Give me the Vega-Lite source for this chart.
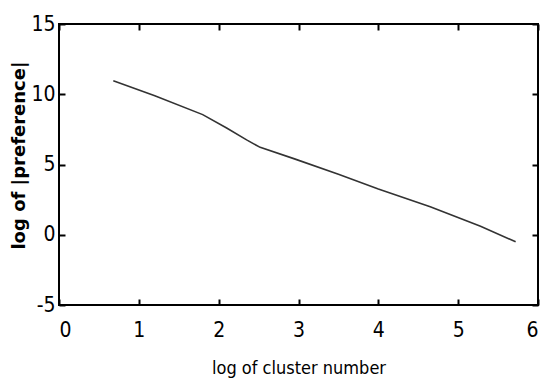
{
  "$schema": "https://vega.github.io/schema/vega-lite/v6.json",
  "width": 479,
  "height": 281,
  "autosize": "none",
  "padding": {"left": 59, "top": 24, "right": 4, "bottom": 77},
  "background": "white",
  "config": {
    "view": {"stroke": "black", "strokeWidth": 2},
    "axis": {
      "grid": false,
      "domain": false,
      "tickColor": "black",
      "tickWidth": 2,
      "tickSize": -6,
      "labelColor": "black",
      "labelFont": "DejaVu Sans Condensed, sans-serif",
      "labelFontSize": 21,
      "labelExpr": "replace(datum.label, '\u2212', '-')",
      "titleColor": "black"
    }
  },
  "data": {
    "values": [
      {"x": 0.68, "y": 10.96},
      {"x": 1.2, "y": 9.9},
      {"x": 1.8, "y": 8.55},
      {"x": 2.1, "y": 7.6},
      {"x": 2.35, "y": 6.75},
      {"x": 2.52, "y": 6.22},
      {"x": 2.95, "y": 5.4},
      {"x": 3.5, "y": 4.3},
      {"x": 4.0, "y": 3.25},
      {"x": 4.65, "y": 2.0},
      {"x": 5.28, "y": 0.6},
      {"x": 5.72, "y": -0.5}
    ]
  },
  "layer": [
    {
      "mark": {"type": "line", "color": "#333333", "strokeWidth": 1.6},
      "encoding": {
        "x": {
          "field": "x", "type": "quantitative",
          "scale": {"domain": [0, 6], "nice": false, "zero": false},
          "axis": {
            "orient": "bottom", "values": [0, 1, 2, 3, 4, 5, 6],
            "labelPadding": 20,
            "title": "log of cluster number",
            "titleFont": "DejaVu Sans Condensed, sans-serif",
            "titleFontSize": 18, "titleFontWeight": "normal",
            "titleY": 63, "titleBaseline": "middle"
          }
        },
        "y": {
          "field": "y", "type": "quantitative",
          "scale": {"domain": [-5, 15], "nice": false, "zero": false},
          "axis": {
            "orient": "left", "values": [-5, 0, 5, 10, 15],
            "labelPadding": 10,
            "title": "log of |preference|",
            "titleFont": "DejaVu Sans, sans-serif",
            "titleFontSize": 18, "titleFontWeight": "bold",
            "titleX": -40, "titleY": 131,
            "titleAlign": "center", "titleBaseline": "middle", "titleAngle": 270
          }
        }
      }
    },
    {
      "mark": {"type": "line", "opacity": 0},
      "encoding": {
        "x": {
          "field": "x", "type": "quantitative",
          "scale": {"domain": [0, 6], "nice": false, "zero": false},
          "axis": {"orient": "top", "values": [0, 1, 2, 3, 4, 5, 6], "labels": false, "title": null}
        },
        "y": {
          "field": "y", "type": "quantitative",
          "scale": {"domain": [-5, 15], "nice": false, "zero": false},
          "axis": {"orient": "right", "values": [-5, 0, 5, 10, 15], "labels": false, "title": null}
        }
      }
    }
  ],
  "resolve": {"axis": {"x": "independent", "y": "independent"}}
}
